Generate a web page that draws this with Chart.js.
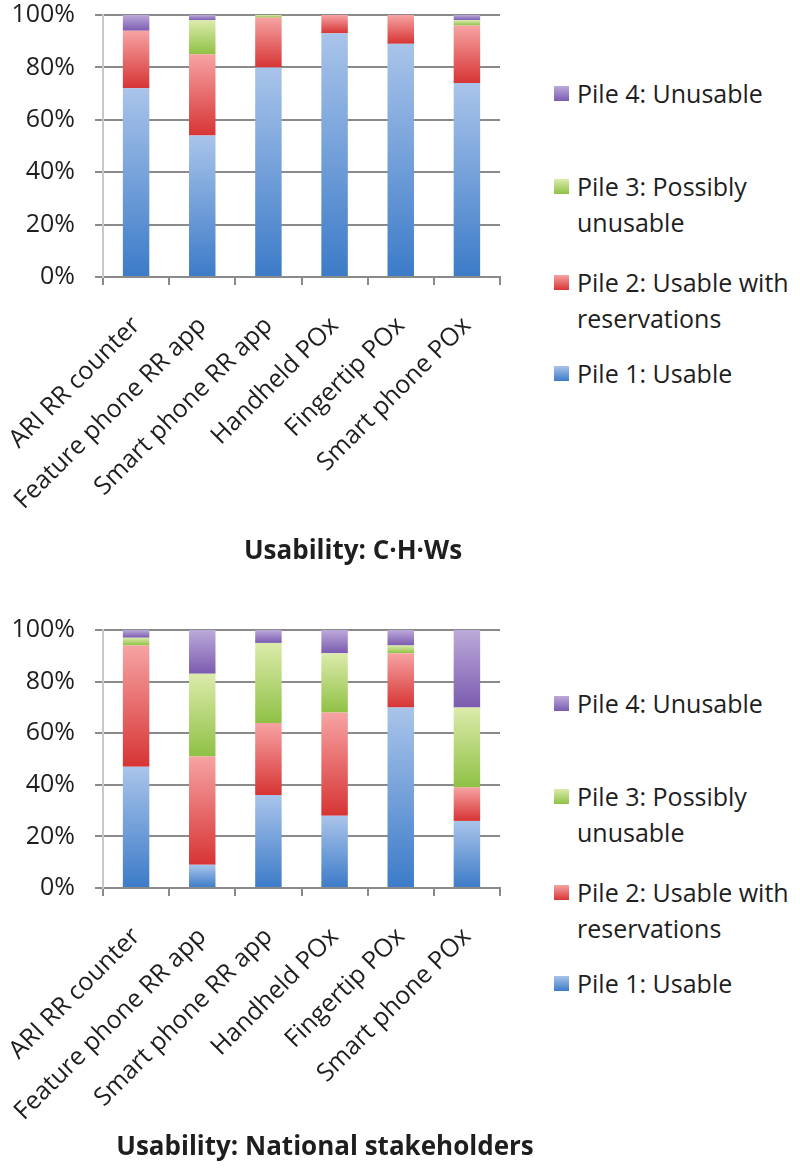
<!DOCTYPE html>
<html>
<head>
<meta charset="utf-8">
<script src="https://cdn.jsdelivr.net/npm/chart.js@4"></script>
<style>
  body { margin: 0; background: #fff; width: 800px; height: 1174px; position: relative; overflow: hidden; font-family: "Open Sans", sans-serif; color: #1e1e1e; }
  .wrap { position: absolute; left: 0; width: 520px; height: 540px; }
  .legend-item { position: absolute; left: 554px; font-size: 25px; line-height: 36px; white-space: nowrap; }
  .legend-item .box { position: absolute; left: 0; top: 11px; width: 15px; height: 15px; }
  .legend-item .txt { position: absolute; left: 23px; top: 0; }
  .title { position: absolute; font-weight: bold; font-size: 26px; line-height: 36px; white-space: nowrap; transform: translateX(-50%); }
</style>
</head>
<body>
<div class="wrap" style="top:0"><canvas id="chwChart"></canvas></div>
<div class="wrap" style="top:615px"><canvas id="natChart"></canvas></div>
<div id="chwLegend"></div>
<div id="natLegend"></div>
<div class="title" style="left:353px; top:531px">Usability: C·H·Ws</div>
<div class="title" style="left:325px; top:1127px">Usability: National stakeholders</div>

<script>
const categories = ['ARI RR counter', 'Feature phone RR app', 'Smart phone RR app', 'Handheld POx', 'Fingertip POx', 'Smart phone POx']
const pileNames = ['Pile 1: Usable', 'Pile 2: Usable with reservations', 'Pile 3: Possibly unusable', 'Pile 4: Unusable']
const yTicks = [0, 20, 40, 60, 80, 100]

// Usability: C·H·Ws (%)
const chwUsable = [72, 54, 80, 93, 89, 74]
const chwReserv = [22, 31, 19, 7, 11, 22]
const chwPossibly = [0, 13, 1, 0, 0, 2]
const chwUnusable = [6, 2, 0, 0, 0, 2]

// Usability: National stakeholders (%)
const natUsable = [47, 9, 36, 28, 70, 26]
const natReserv = [47, 42, 28, 40, 21, 13]
const natPossibly = [3, 32, 31, 23, 3, 31]
const natUnusable = [3, 17, 5, 9, 6, 30]

// light (top) / dark (bottom) of each pile's gradient
const pileLight = ['#a9c4ea', '#f7a3a3', '#dcebab', '#bcaad9']
const pileDark = ['#3c7bc8', '#d73434', '#8fc145', '#7b5bb0']

// legend rows: cap-centre y of first line, wrapped text
const legendRows = [
  { pile: 3, y: 94, lines: ['Pile 4: Unusable'] },
  { pile: 2, y: 187, lines: ['Pile 3: Possibly', 'unusable'] },
  { pile: 1, y: 283, lines: ['Pile 2: Usable with', 'reservations'] },
  { pile: 0, y: 374, lines: ['Pile 1: Usable'] }
]

const canvasH = 540

function segmentFill(series, di) {
  return function (context) {
    const chart = context.chart
    const area = chart.chartArea
    if (!area || context.dataIndex === undefined) return pileDark[di]
    const i = context.dataIndex
    let base = 0
    for (let k = 0; k < di; k++) base += series[k][i]
    const y = chart.scales.y
    const top = y.getPixelForValue(base + series[di][i])
    const bottom = y.getPixelForValue(base)
    if (!(bottom - top > 0)) return pileDark[di]
    const g = chart.ctx.createLinearGradient(0, top, 0, bottom)
    g.addColorStop(0, pileLight[di])
    g.addColorStop(1, pileDark[di])
    return g
  }
}

function makeChart(id, series, plotTop, plotBottom) {
  const canvas = document.getElementById(id)
  canvas.width = 520
  canvas.height = canvasH
  canvas.style.width = '520px'
  canvas.style.height = canvasH + 'px'
  new Chart(canvas, {
    type: 'bar',
    data: {
      labels: categories,
      datasets: series.map((vals, di) => ({
        label: pileNames[di],
        data: vals,
        backgroundColor: segmentFill(series, di),
        borderWidth: 0,
        barPercentage: 0.4,
        categoryPercentage: 1
      }))
    },
    options: {
      responsive: false,
      animation: false,
      layout: { padding: { top: plotTop, right: 20, left: 0, bottom: 0 } },
      plugins: { legend: { display: false }, tooltip: { enabled: false } },
      scales: {
        x: {
          stacked: true,
          offset: true,
          afterFit: (s) => { s.height = canvasH - plotBottom; s.paddingLeft = 0; s.paddingRight = 0 },
          grid: { offset: true, drawOnChartArea: false, drawTicks: true, tickLength: 8, color: '#8a8a8a', lineWidth: 2 },
          border: { display: true, color: '#8a8a8a', width: 2 },
          ticks: { minRotation: 45, maxRotation: 45, autoSkip: false, padding: 26, color: '#1e1e1e', font: { family: 'Open Sans', size: 25 } }
        },
        y: {
          stacked: true,
          min: 0,
          max: 100,
          afterFit: (s) => { s.width = 103; s.paddingTop = 0; s.paddingBottom = 0 },
          afterBuildTicks: (s) => { s.ticks = yTicks.map(v => ({ value: v })) },
          grid: { color: '#8a8a8a', lineWidth: 2, tickLength: 8 },
          border: { display: true, color: '#c8c8c8', width: 2 },
          ticks: { padding: 20, color: '#1e1e1e', font: { family: 'Open Sans', size: 25 }, callback: v => v + '%' }
        }
      }
    }
  })
}

function makeLegend(id, offsetY) {
  const el = document.getElementById(id)
  legendRows.forEach(r => {
    const item = document.createElement('div')
    item.className = 'legend-item'
    item.style.top = (r.y + offsetY - 19) + 'px'
    const box = document.createElement('div')
    box.className = 'box'
    box.style.background = 'linear-gradient(' + pileLight[r.pile] + ', ' + pileDark[r.pile] + ')'
    const txt = document.createElement('div')
    txt.className = 'txt'
    txt.innerHTML = r.lines.join('<br>')
    item.appendChild(box)
    item.appendChild(txt)
    el.appendChild(item)
  })
}

makeChart('chwChart', [chwUsable, chwReserv, chwPossibly, chwUnusable], 15, 277)
makeChart('natChart', [natUsable, natReserv, natPossibly, natUnusable], 15, 273)
makeLegend('chwLegend', 0)
makeLegend('natLegend', 610)
</script>
</body>
</html>
